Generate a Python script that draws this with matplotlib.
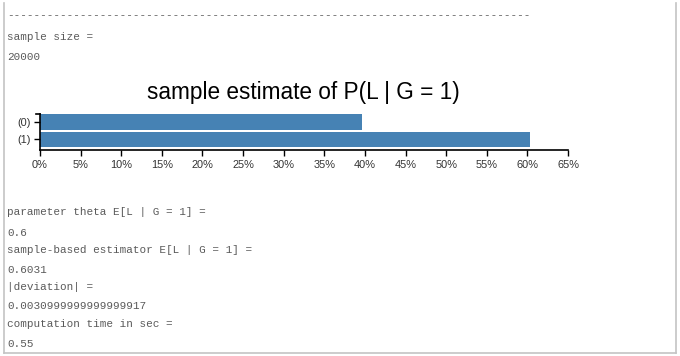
import matplotlib.pyplot as plt
import matplotlib.ticker as mticker
from matplotlib.lines import Line2D

# data
categories = ['(0)', '(1)']
estimates = [0.3969, 0.6031]
x_ticks = [0, 5, 10, 15, 20, 25, 30, 35, 40, 45, 50, 55, 60, 65]

header_lines = ['-' * 79, 'sample size =', '20000']
footer_lines = ['parameter theta E[L | G = 1] =', '0.6',
                'sample-based estimator E[L | G = 1] =', '0.6031',
                '|deviation| =', '0.0030999999999999917',
                'computation time in sec =', '0.55']

W, H = 680, 356
fig = plt.figure(figsize=(W / 100, H / 100), dpi=100)

def fx(px):
    return px / W

def fy(py):
    return 1 - py / H

# page border
border = '#c4c4c4'
fig.add_artist(Line2D([fx(4), fx(4)], [fy(3), fy(353)], color=border, lw=1.2))
fig.add_artist(Line2D([fx(4), fx(676)], [fy(353), fy(353)], color=border, lw=1.2))
fig.add_artist(Line2D([fx(676), fx(676)], [fy(3), fy(353)], color=border, lw=1.2))

mono = dict(family='Liberation Mono', fontsize=7.9, color='#5a5a5a', va='center', ha='left')
for txt, y in zip(header_lines, [15, 37, 57]):
    fig.text(fx(7), fy(y), txt, **mono)
for txt, y in zip(footer_lines, [212, 233, 250, 270, 287, 306, 324, 344]):
    fig.text(fx(7), fy(y), txt, **mono)

fig.text(fx(303), fy(93), 'sample estimate of P(L | G = 1)', family='Liberation Sans',
         fontsize=16.3, color='black', ha='center', va='center')

ax = fig.add_axes([fx(40), fy(150), fx(568) - fx(40), fy(114) - fy(150)])
ax.barh(range(len(categories)), [v * 100 for v in estimates], height=0.9, color='#4682b4')
ax.set_xlim(0, 65)
ax.set_ylim(1.62, -0.47)
ax.set_yticks(range(len(categories)))
ax.set_yticklabels(categories)
ax.set_xticks(x_ticks)
ax.xaxis.set_major_formatter(mticker.FuncFormatter(lambda v, p: f'{v:.0f}%'))
for s in ['top', 'right']:
    ax.spines[s].set_visible(False)
for s in ['left', 'bottom']:
    ax.spines[s].set_linewidth(1.2)
ax.tick_params(length=4.5, width=1, labelsize=7.9, colors='black', labelcolor='#333333')
ax.tick_params(axis='x', pad=3)
ax.tick_params(axis='y', pad=2)
for lab in ax.get_xticklabels() + ax.get_yticklabels():
    lab.set_family('Liberation Sans')
# outer tick at top of y axis
ax.plot([-0.5, 0], [-0.47, -0.47], color='black', lw=1.2, clip_on=False)

fig.savefig('out.png', dpi=100)
